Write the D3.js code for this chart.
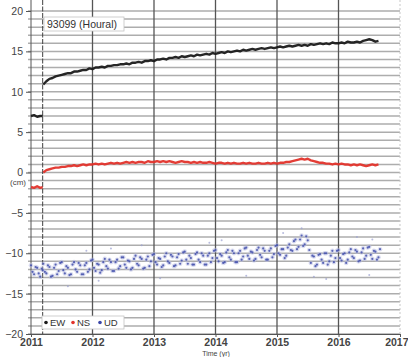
<!DOCTYPE html>
<html>
<head>
<meta charset="utf-8">
<script src="https://cdn.jsdelivr.net/npm/d3@7"></script>
<style>
  body { margin: 0; background: #fff; }
  svg text { font-family: "Liberation Sans", Arial, sans-serif; }
</style>
</head>
<body>
<svg width="408" height="357"></svg>
<script>
// station name and event
var stationName = "93099 (Houral)";
var quakeYear = 2011.19;

// axis ticks
var yearTicks = [2011, 2012, 2013, 2014, 2015, 2016, 2017];
var cmTicks = [20, 15, 10, 5, 0, -5, -10, -15, -20];

// pre-earthquake samples (2011.00 .. 2011.19)
var preTimes = [2011.00, 2011.05, 2011.10, 2011.15, 2011.19];
var preEW = [7.0, 7.1, 6.9, 7.0, 7.0];
var preNS = [-1.8, -1.9, -1.7, -1.9, -1.8];
var preUD = [-11.5, -12.6, -11.8, -12.9, -12.1];
var preUD2 = [-12.3, -11.7, -12.5, -11.9, -12.7];

// post-earthquake samples, every 0.05 yr from 2011.20
var postStart = 2011.20, postStep = 0.05;
var postEW = [
  10.9, 11.3, 11.6, 11.7, 11.9, 12.0, 12.1, 12.2, 12.3, 12.3,
  12.5, 12.5, 12.6, 12.7, 12.7, 12.9, 12.8, 13.0, 13.0, 13.1,
  13.0, 13.2, 13.2, 13.3, 13.3, 13.4, 13.4, 13.5, 13.4, 13.6,
  13.6, 13.7, 13.6, 13.8, 13.8, 13.9, 13.8, 14.0, 14.0, 14.1,
  14.0, 14.2, 14.2, 14.3, 14.2, 14.4, 14.3, 14.4, 14.5, 14.4,
  14.6, 14.5, 14.6, 14.7, 14.6, 14.8, 14.7, 14.8, 14.9, 14.8,
  15.0, 14.9, 15.0, 15.1, 15.0, 15.2, 15.1, 15.2, 15.3, 15.2,
  15.3, 15.4, 15.3, 15.4, 15.5, 15.4, 15.5, 15.6, 15.5, 15.6,
  15.7, 15.6, 15.7, 15.8, 15.7, 15.8, 15.7, 15.9, 15.8, 15.9,
  16.0, 15.9, 16.0, 15.9, 16.1, 16.0, 16.0, 16.1, 16.0, 16.2,
  16.1, 16.1, 16.2, 16.1, 16.3, 16.4, 16.5, 16.4, 16.2, 16.3
];
var postNS = [
  0.0, 0.3, 0.4, 0.5, 0.6, 0.6, 0.7, 0.7, 0.8, 0.8,
  0.9, 0.8, 0.9, 1.0, 0.9, 1.0, 1.0, 1.1, 1.0, 1.1,
  1.0, 1.1, 1.2, 1.1, 1.2, 1.1, 1.2, 1.3, 1.2, 1.3,
  1.2, 1.3, 1.3, 1.2, 1.4, 1.3, 1.3, 1.4, 1.3, 1.4,
  1.3, 1.4, 1.3, 1.2, 1.3, 1.4, 1.3, 1.3, 1.2, 1.3,
  1.2, 1.3, 1.2, 1.2, 1.3, 1.2, 1.1, 1.2, 1.2, 1.1,
  1.2, 1.1, 1.2, 1.1, 1.1, 1.2, 1.1, 1.2, 1.1, 1.1,
  1.2, 1.1, 1.1, 1.2, 1.1, 1.2, 1.1, 1.2, 1.2, 1.3,
  1.3, 1.4, 1.5, 1.6, 1.7, 1.6, 1.7, 1.5, 1.4, 1.3,
  1.2, 1.2, 1.1, 1.1, 1.0, 1.1, 1.0, 1.1, 1.0, 1.0,
  0.9, 1.0, 0.9, 1.0, 0.9, 0.8, 0.9, 1.0, 0.9, 1.0
];
var postUD = [
  -11.3, -12.5, -11.7, -12.8, -11.4, -12.2, -11.1, -12.5, -11.8, -12.6,
  -11.1, -12.3, -11.5, -12.6, -11.2, -12.0, -10.8, -12.2, -11.4, -12.1,
  -10.7, -11.9, -11.1, -12.2, -10.8, -11.6, -10.5, -11.8, -11.0, -11.8,
  -10.3, -11.5, -10.7, -11.8, -10.4, -11.0, -10.1, -11.4, -10.7, -11.5,
  -10.0, -11.2, -10.4, -11.5, -10.1, -10.9, -9.8, -11.3, -10.6, -11.4,
  -9.9, -11.1, -10.3, -11.4, -10.0, -10.6, -9.6, -11.0, -10.3, -11.1,
  -9.6, -10.8, -10.0, -11.1, -9.7, -10.4, -9.3, -10.7, -9.9, -10.7,
  -9.3, -10.5, -9.7, -10.8, -9.4, -10.1, -9.0, -10.2, -9.5, -10.3,
  -8.9, -9.7, -8.3, -9.2, -7.8, -8.9, -8.4, -11.2, -10.4, -11.4,
  -10.1, -11.2, -10.0, -11.0, -9.7, -10.6, -9.6, -10.9, -10.0, -10.8,
  -9.5, -10.6, -9.8, -10.9, -9.4, -10.3, -9.2, -10.7, -9.8, -10.5
];
// second UD sample set, half a step later (2011.225, 2011.275, ...)
var postUD2 = [
  -12.3, -11.5, -12.9, -11.8, -12.6, -11.2, -12.1, -11.6, -12.7, -11.4,
  -12.0, -11.2, -12.6, -11.5, -12.3, -10.9, -11.8, -11.3, -12.4, -11.1,
  -11.6, -10.8, -12.2, -11.1, -11.9, -10.5, -11.4, -10.9, -12.0, -10.7,
  -11.3, -10.5, -11.9, -10.8, -11.6, -10.2, -11.1, -10.6, -11.7, -10.4,
  -11.0, -10.2, -11.6, -10.5, -11.3, -9.9, -10.8, -10.3, -11.4, -10.1,
  -10.8, -10.0, -11.4, -10.3, -11.1, -9.7, -10.6, -10.1, -11.2, -9.9,
  -10.5, -9.7, -11.1, -10.0, -10.8, -9.4, -10.3, -9.8, -10.9, -9.6,
  -10.2, -9.4, -10.8, -9.7, -10.5, -9.1, -10.0, -9.5, -10.6, -9.3,
  -9.6, -8.5, -9.5, -8.3, -9.1, -7.9, -9.6, -10.3, -11.6, -10.2,
  -10.8, -10.0, -11.4, -10.3, -11.1, -9.7, -10.6, -10.1, -11.2, -9.9,
  -10.4, -9.6, -11.0, -9.9, -10.7, -9.3, -10.2, -9.7, -10.8, -9.5
];
// scattered UD outliers [year, cm]
var udOutliers = [
  [2011.6, -14.1], [2011.9, -9.7], [2012.3, -9.4], [2012.8, -9.0],
  [2013.1, -13.1], [2013.9, -8.7], [2014.5, -12.8], [2015.1, -7.5],
  [2015.4, -6.9], [2015.8, -13.2], [2016.3, -8.0], [2016.5, -12.7],
  [2012.1, -13.4], [2014.1, -8.4], [2015.6, -12.9], [2016.55, -8.3]
];

var series = [
  { name: "EW", color: "#1a1a1a", pre: preEW, post: postEW },
  { name: "NS", color: "#e2332b", pre: preNS, post: postNS },
  { name: "UD", color: "#3a47a8", pre: preUD, post: postUD }
];

var svg = d3.select("svg");

var x = d3.scaleLinear().domain([2011, 2017]).range([31, 400]);
var y = d3.scaleLinear().domain([-20, 20]).range([334, 11]);

// horizontal grid, every 1 cm
svg.append("g")
  .selectAll("line")
  .data(d3.range(-20, 21))
  .enter().append("line")
  .attr("x1", x(2011) - 3).attr("x2", x(2017))
  .attr("y1", function(d) { return y(d); })
  .attr("y2", function(d) { return y(d); })
  .attr("stroke", "#adadad")
  .attr("stroke-width", 1.5);

// vertical year lines
svg.append("g")
  .selectAll("line")
  .data(yearTicks.slice(1, -1))
  .enter().append("line")
  .attr("x1", function(d) { return x(d); })
  .attr("x2", function(d) { return x(d); })
  .attr("y1", 0).attr("y2", y(-20))
  .attr("stroke", "#555")
  .attr("stroke-width", 1.3);

// earthquake line
svg.append("line")
  .attr("x1", x(quakeYear)).attr("x2", x(quakeYear))
  .attr("y1", 0).attr("y2", y(-20))
  .attr("stroke", "#404040")
  .attr("stroke-width", 1)
  .attr("stroke-dasharray", "5,1.5");

// right edge
svg.append("line")
  .attr("x1", x(2017)).attr("x2", x(2017))
  .attr("y1", 0).attr("y2", y(-20))
  .attr("stroke", "#c8c8c8")
  .attr("stroke-width", 1)
  .attr("stroke-dasharray", "2,2");

// axes
var yAxis = d3.axisLeft(y).tickValues(cmTicks).tickSize(5).tickPadding(3);
var gy = svg.append("g").attr("transform", "translate(" + x(2011) + ",0)").call(yAxis);
gy.select(".domain").attr("d", "M0,0V" + y(-20)).attr("stroke", "#555");
gy.selectAll("line").attr("stroke", "#555");
gy.selectAll("text").attr("font-size", 10.5).attr("fill", "#444");

var xAxis = d3.axisBottom(x).tickValues(yearTicks).tickFormat(d3.format("d")).tickSize(3).tickPadding(2);
var gx = svg.append("g").attr("transform", "translate(0," + y(-20) + ")").call(xAxis);
gx.select(".domain").attr("stroke", "#555");
gx.selectAll("line").attr("stroke", "#555");
gx.selectAll("text").attr("font-size", 10.5).attr("fill", "#444").attr("font-weight", "bold");
gx.selectAll(".tick").filter(function(d) { return d == 2017; })
  .select("text").attr("text-anchor", "end").attr("x", 8);

svg.append("text").attr("x", 18).attr("y", 185)
  .attr("text-anchor", "middle").attr("font-size", 8).attr("fill", "#444")
  .text("(cm)");
svg.append("text").attr("x", 216).attr("y", 356)
  .attr("text-anchor", "middle").attr("font-size", 7).attr("fill", "#444")
  .text("Time (yr)");

// data
var line = d3.line()
  .x(function(d) { return x(d[0]); })
  .y(function(d) { return y(d[1]); });

var plot = svg.append("g");

function dots(pts, r, color, op) {
  plot.append("g").selectAll("circle")
    .data(pts)
    .enter().append("circle")
    .attr("cx", function(d) { return x(d[0]); })
    .attr("cy", function(d) { return y(d[1]); })
    .attr("r", r)
    .attr("fill", color)
    .attr("opacity", op);
}

dots(udOutliers, 1, "#9aa0d0", 0.7);

// UD as a scatter of dots
var udPts = preTimes.map(function(t, i) { return [t, preUD[i]]; })
  .concat(preTimes.map(function(t, i) { return [t + 0.025, preUD2[i]]; }).slice(0, 4))
  .concat(postUD.map(function(v, i) { return [postStart + i * postStep, v]; }))
  .concat(postUD2.map(function(v, i) { return [postStart + 0.025 + i * postStep, v]; }));
dots(udPts, 2.3, "#b8bce2", 0.5);
dots(udPts, 1.1, "#3a47a8", 0.8);

// EW and NS as thick noisy traces
series.slice(0, 2).forEach(function(s) {
  var pre = preTimes.map(function(t, i) { return [t, s.pre[i]]; });
  var post = s.post.map(function(v, i) { return [postStart + i * postStep, v]; });
  [pre, post].forEach(function(pts) {
    plot.append("path")
      .datum(pts)
      .attr("d", line)
      .attr("fill", "none")
      .attr("stroke", s.color)
      .attr("stroke-width", 2.4)
      .attr("stroke-linejoin", "round")
      .attr("opacity", 0.95);
  });
});

// station label
var lab = svg.append("g");
lab.append("rect")
  .attr("x", 44).attr("y", 17).attr("width", 80).attr("height", 14)
  .attr("fill", "#fff").attr("stroke", "#c4c4c4").attr("stroke-width", 0.8);
lab.append("text")
  .attr("x", 47).attr("y", 28)
  .attr("font-size", 10.5).attr("fill", "#333")
  .text(stationName);

// legend
var leg = svg.append("g");
leg.append("rect")
  .attr("x", 42).attr("y", 316).attr("width", 82).attr("height", 13)
  .attr("fill", "#fff").attr("stroke", "#c4c4c4").attr("stroke-width", 0.8);
var li = leg.selectAll("g.item")
  .data(series)
  .enter().append("g")
  .attr("class", "item")
  .attr("transform", function(d, i) { return "translate(" + (46 + i * 27) + ",322.5)"; });
li.append("circle").attr("r", 1.8).attr("fill", function(d) { return d.color; });
li.append("text").attr("x", 4).attr("y", 3.5)
  .attr("font-size", 9.5).attr("fill", "#333")
  .text(function(d) { return d.name; });
</script>
</body>
</html>
